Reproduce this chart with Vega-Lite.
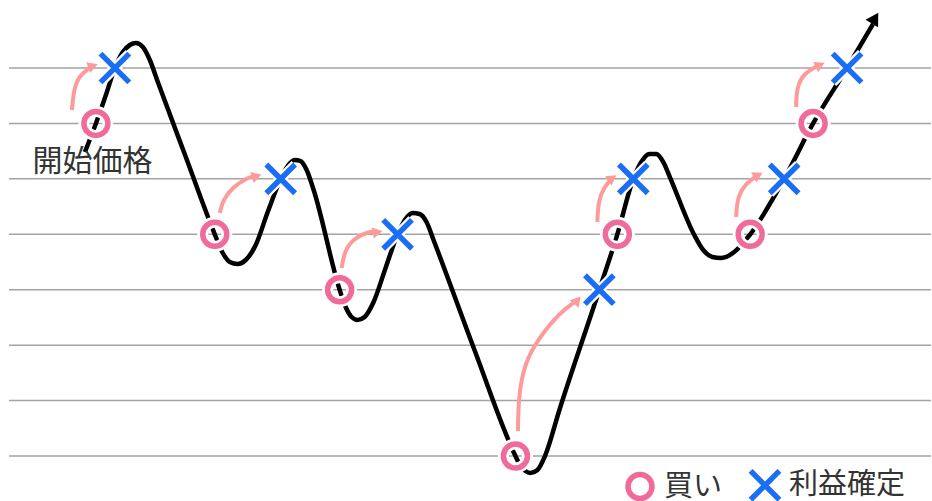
{
  "$schema": "https://vega.github.io/schema/vega-lite/v6.json",
  "width": 932,
  "height": 501,
  "padding": 0,
  "autosize": {"type": "fit", "contains": "padding"},
  "background": "white",
  "datasets": {
    "levels": [{"v": 0}, {"v": 1}, {"v": 2}, {"v": 3}, {"v": 4}, {"v": 5}, {"v": 6}, {"v": 7}],
    "curve": [
      {"t": 8.5, "v": 5.484}, {"t": 9.6, "v": 6.0}, {"t": 10.6, "v": 6.513}, {"t": 11.5, "v": 7.0},
      {"t": 12.3, "v": 7.289}, {"t": 13.0, "v": 7.415}, {"t": 13.6, "v": 7.451}, {"t": 14.3, "v": 7.379},
      {"t": 15.0, "v": 7.144}, {"t": 15.8, "v": 6.747}, {"t": 18.6, "v": 5.394}, {"t": 21.5, "v": 4.0},
      {"t": 22.3, "v": 3.662}, {"t": 23.0, "v": 3.5}, {"t": 23.8, "v": 3.464}, {"t": 24.6, "v": 3.536},
      {"t": 25.6, "v": 3.807}, {"t": 26.8, "v": 4.402}, {"t": 28.1, "v": 5.0}, {"t": 28.8, "v": 5.232},
      {"t": 29.5, "v": 5.34}, {"t": 30.1, "v": 5.322}, {"t": 30.7, "v": 5.16}, {"t": 31.4, "v": 4.799},
      {"t": 34.0, "v": 3.0}, {"t": 34.6, "v": 2.688}, {"t": 35.2, "v": 2.508}, {"t": 35.8, "v": 2.454},
      {"t": 36.5, "v": 2.508}, {"t": 37.4, "v": 2.778}, {"t": 38.6, "v": 3.392}, {"t": 39.8, "v": 4.0},
      {"t": 40.6, "v": 4.276}, {"t": 41.3, "v": 4.384}, {"t": 42.0, "v": 4.366}, {"t": 42.7, "v": 4.222},
      {"t": 43.4, "v": 3.897}, {"t": 47.5, "v": 1.912}, {"t": 51.6, "v": 0.0}, {"t": 52.1, "v": -0.18},
      {"t": 52.6, "v": -0.271}, {"t": 53.1, "v": -0.307}, {"t": 53.8, "v": -0.253}, {"t": 54.6, "v": 0.018},
      {"t": 56.0, "v": 0.83}, {"t": 60.0, "v": 3.0}, {"t": 61.8, "v": 4.0}, {"t": 63.4, "v": 5.0},
      {"t": 64.2, "v": 5.304}, {"t": 65.0, "v": 5.448}, {"t": 65.7, "v": 5.448}, {"t": 66.4, "v": 5.304},
      {"t": 67.1, "v": 5.015}, {"t": 69.5, "v": 3.987}, {"t": 70.4, "v": 3.716}, {"t": 71.3, "v": 3.59},
      {"t": 72.2, "v": 3.572}, {"t": 73.5, "v": 3.68}, {"t": 75.1, "v": 4.0}, {"t": 78.5, "v": 5.0},
      {"t": 81.4, "v": 6.0}, {"t": 84.8, "v": 7.0}, {"t": 87.4, "v": 7.794}
    ],
    "trendhead": [{"t": 87.6, "v": 7.9, "dir": 31}],
    "arrows": [
      {"id": 1, "t": 7.2, "v": 6.242}, {"id": 1, "t": 7.4, "v": 6.639}, {"id": 1, "t": 8.0, "v": 6.874}, {"id": 1, "t": 9.1, "v": 7.018},
      {"id": 2, "t": 22.0, "v": 4.384}, {"id": 2, "t": 22.3, "v": 4.618}, {"id": 2, "t": 23.3, "v": 4.853}, {"id": 2, "t": 24.7, "v": 5.015}, {"id": 2, "t": 25.5, "v": 5.05},
      {"id": 3, "t": 34.2, "v": 3.392}, {"id": 3, "t": 34.5, "v": 3.716}, {"id": 3, "t": 35.5, "v": 3.933}, {"id": 3, "t": 36.8, "v": 4.041}, {"id": 3, "t": 37.6, "v": 4.045},
      {"id": 4, "t": 51.85, "v": 0.45}, {"id": 4, "t": 51.9, "v": 1.064}, {"id": 4, "t": 52.5, "v": 1.678}, {"id": 4, "t": 54.0, "v": 2.147}, {"id": 4, "t": 56.0, "v": 2.58}, {"id": 4, "t": 57.6, "v": 2.79},
      {"id": 5, "t": 59.8, "v": 4.222}, {"id": 5, "t": 59.9, "v": 4.618}, {"id": 5, "t": 60.5, "v": 4.853}, {"id": 5, "t": 61.2, "v": 5.0},
      {"id": 6, "t": 73.7, "v": 4.312}, {"id": 6, "t": 73.8, "v": 4.673}, {"id": 6, "t": 74.7, "v": 4.925}, {"id": 6, "t": 75.8, "v": 5.06},
      {"id": 7, "t": 79.7, "v": 6.296}, {"id": 7, "t": 79.75, "v": 6.657}, {"id": 7, "t": 80.5, "v": 6.91}, {"id": 7, "t": 82.0, "v": 7.05}
    ],
    "heads": [
      {"t": 9.3, "v": 7.036, "dir": 70},
      {"t": 25.7, "v": 5.051, "dir": 72},
      {"t": 37.8, "v": 4.041, "dir": 78},
      {"t": 57.8, "v": 2.81, "dir": 40},
      {"t": 61.3, "v": 5.015, "dir": 55},
      {"t": 75.9, "v": 5.069, "dir": 62},
      {"t": 82.1, "v": 7.054, "dir": 64}
    ],
    "markers": [
      {"t": 9.6, "v": 6, "kind": "買い"}, {"t": 21.5, "v": 4, "kind": "買い"}, {"t": 34.0, "v": 3, "kind": "買い"},
      {"t": 51.6, "v": 0, "kind": "買い"}, {"t": 61.8, "v": 4, "kind": "買い"}, {"t": 75.1, "v": 4, "kind": "買い"},
      {"t": 81.4, "v": 6, "kind": "買い"},
      {"t": 11.5, "v": 7, "kind": "利益確定"}, {"t": 28.1, "v": 5, "kind": "利益確定"}, {"t": 39.8, "v": 4, "kind": "利益確定"},
      {"t": 60.0, "v": 3, "kind": "利益確定"}, {"t": 63.4, "v": 5, "kind": "利益確定"}, {"t": 78.5, "v": 5, "kind": "利益確定"},
      {"t": 84.8, "v": 7, "kind": "利益確定"}
    ],
    "labels": [{"t": 9.25, "v": 5.3, "text": "開始価格"}]
  },
  "layer": [
    {
      "data": {"name": "levels"},
      "mark": {"type": "rule", "color": "#a3a3a3", "strokeWidth": 1.5},
      "encoding": {
        "x": {"datum": 0.9, "type": "quantitative", "axis": null, "scale": {"domain": [0, 93.2], "nice": false, "zero": false}},
        "x2": {"datum": 93.2},
        "y": {"field": "v", "type": "quantitative", "axis": null, "scale": {"domain": [-0.812, 8.227], "nice": false, "zero": false}}
      }
    },
    {
      "data": {"name": "curve"},
      "mark": {"type": "line", "color": "#000000", "strokeWidth": 4.5, "interpolate": "monotone"},
      "encoding": {
        "x": {"field": "t", "type": "quantitative"},
        "y": {"field": "v", "type": "quantitative"},
        "order": {"field": "t"}
      }
    },
    {
      "data": {"name": "trendhead"},
      "mark": {"type": "point", "shape": "triangle-up", "filled": true, "color": "#000000", "size": 210, "opacity": 1},
      "encoding": {
        "x": {"field": "t", "type": "quantitative"},
        "y": {"field": "v", "type": "quantitative"},
        "angle": {"field": "dir", "type": "quantitative", "scale": null}
      }
    },
    {
      "data": {"name": "arrows"},
      "mark": {"type": "line", "color": "#ff9a9a", "strokeWidth": 4, "interpolate": "basis"},
      "encoding": {
        "x": {"field": "t", "type": "quantitative"},
        "y": {"field": "v", "type": "quantitative"},
        "detail": {"field": "id"},
        "order": {"field": "t"}
      }
    },
    {
      "data": {"name": "heads"},
      "mark": {"type": "point", "shape": "triangle-up", "filled": true, "color": "#ff9a9a", "size": 130, "opacity": 1},
      "encoding": {
        "x": {"field": "t", "type": "quantitative"},
        "y": {"field": "v", "type": "quantitative"},
        "angle": {"field": "dir", "type": "quantitative", "scale": null}
      }
    },
    {
      "data": {"name": "markers"},
      "transform": [{"filter": "datum.kind === '買い'"}],
      "mark": {"type": "point", "shape": "circle", "filled": false, "stroke": "#ffffff", "strokeWidth": 11, "size": 576, "opacity": 1},
      "encoding": {
        "x": {"field": "t", "type": "quantitative"},
        "y": {"field": "v", "type": "quantitative"}
      }
    },
    {
      "data": {"name": "markers"},
      "transform": [{"filter": "datum.kind === '利益確定'"}],
      "mark": {"type": "point", "shape": "M-1.2,-1.2L1.2,1.2M-1.2,1.2L1.2,-1.2", "filled": false, "stroke": "#ffffff", "strokeWidth": 10, "size": 576, "opacity": 1},
      "encoding": {
        "x": {"field": "t", "type": "quantitative"},
        "y": {"field": "v", "type": "quantitative"}
      }
    },
    {
      "data": {"name": "markers"},
      "mark": {"type": "point", "filled": false, "strokeWidth": 5.5, "size": 576, "opacity": 1},
      "encoding": {
        "x": {"field": "t", "type": "quantitative"},
        "y": {"field": "v", "type": "quantitative"},
        "shape": {"field": "kind", "type": "nominal", "scale": {"domain": ["買い", "利益確定"], "range": ["circle", "M-1.2,-1.2L1.2,1.2M-1.2,1.2L1.2,-1.2"]}, "legend": {"title": null}},
        "stroke": {"field": "kind", "type": "nominal", "scale": {"domain": ["買い", "利益確定"], "range": ["#f06b9b", "#1a6ef5"]}, "legend": {"title": null}}
      }
    },
    {
      "data": {"name": "labels"},
      "mark": {"type": "text", "fontSize": 30, "color": "#333333", "align": "center", "baseline": "middle", "font": "Noto Sans CJK JP"},
      "encoding": {
        "x": {"field": "t", "type": "quantitative"},
        "y": {"field": "v", "type": "quantitative"},
        "text": {"field": "text"}
      }
    }
  ],
  "resolve": {"scale": {"x": "shared", "y": "shared"}},
  "config": {
    "view": {"stroke": null},
    "font": "Noto Sans CJK JP",
    "legend": {
      "orient": "none",
      "legendX": 625,
      "legendY": 470,
      "direction": "horizontal",
      "padding": 0,
      "labelFontSize": 29,
      "labelFont": "Noto Sans CJK JP",
      "labelColor": "#333333",
      "symbolSize": 576,
      "symbolStrokeWidth": 5.5,
      "labelOffset": 9,
      "columnPadding": 16
    }
  }
}
